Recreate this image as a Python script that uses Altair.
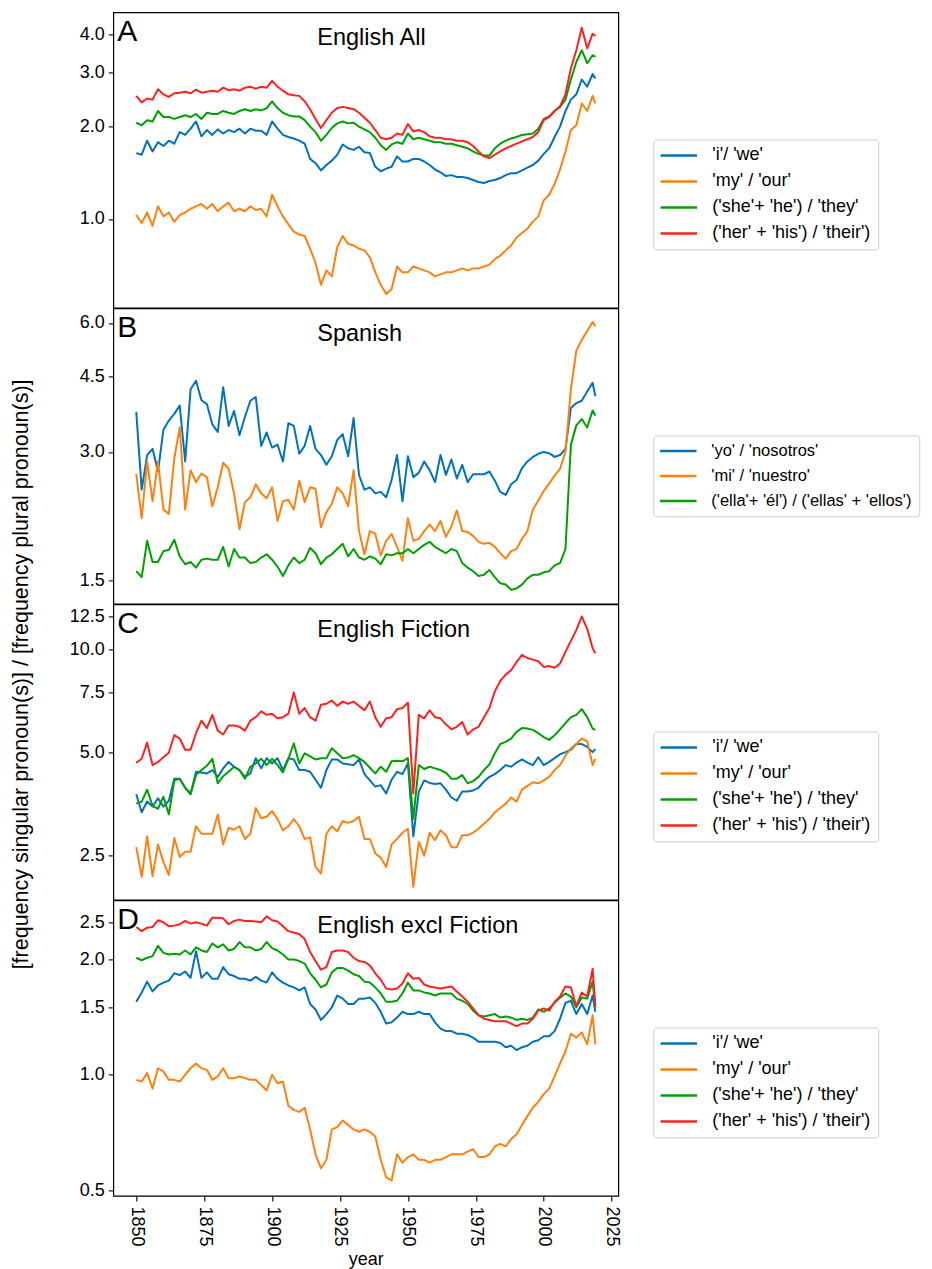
import altair as alt
import pandas as pd

FONT = "Liberation Sans"

years = list(range(1850, 2019, 2)) + [2019]

LABELS_EN = ["'i'/ 'we'", "'my' / 'our'", "('she'+ 'he') / 'they'", "('her' + 'his') / 'their')"]
LABELS_ES = ["'yo' / 'nosotros'", "'mi' / 'nuestro'", "('ella'+ 'él') / ('ellas' + 'ellos')"]
COLORS = ["#0072bd", "#ff800e", "#00a000", "#ff2020"]
YLABEL = "[frequency singular pronoun(s)] / [frequency plural pronoun(s)]"

X_DOMAIN = [1841.55, 2027.45]
X_TICKS = [1850, 1875, 1900, 1925, 1950, 1975, 2000, 2025]

# ---------------- Panel A: English All ----------------
A_blue = [1.64, 1.62, 1.80, 1.66, 1.78, 1.73, 1.80, 1.76, 1.92, 1.88,
          1.97, 2.08, 1.86, 1.95, 1.88, 1.96, 1.90, 1.95, 1.92, 1.97,
          1.90, 1.97, 1.94, 1.94, 1.88, 2.08, 1.97, 1.88, 1.85, 1.83,
          1.80, 1.76, 1.57, 1.52, 1.44, 1.50, 1.55, 1.62, 1.75, 1.70,
          1.68, 1.72, 1.65, 1.64, 1.48, 1.43, 1.46, 1.48, 1.60, 1.54,
          1.54, 1.57, 1.57, 1.54, 1.50, 1.45, 1.42, 1.38, 1.39, 1.37,
          1.37, 1.36, 1.34, 1.32, 1.31, 1.33, 1.34, 1.36, 1.39, 1.41,
          1.41, 1.44, 1.47, 1.50, 1.55, 1.63, 1.70, 1.85, 2.00, 2.25,
          2.45, 2.55, 2.85, 2.70, 2.97,
          2.87]
A_orange = [1.03, 0.97, 1.05, 0.95, 1.10, 1.02, 1.05, 0.98, 1.03, 1.05,
            1.08, 1.10, 1.12, 1.08, 1.12, 1.06, 1.10, 1.13, 1.06, 1.08,
            1.06, 1.10, 1.07, 1.08, 1.02, 1.20, 1.10, 1.02, 0.96, 0.91,
            0.89, 0.88, 0.80, 0.72, 0.61, 0.68, 0.65, 0.81, 0.88, 0.83,
            0.82, 0.80, 0.79, 0.75, 0.67, 0.61, 0.57, 0.59, 0.70, 0.67,
            0.67, 0.70, 0.69, 0.68, 0.67, 0.65, 0.66, 0.67, 0.67, 0.68,
            0.69, 0.68, 0.69, 0.69, 0.70, 0.71, 0.74, 0.76, 0.79, 0.82,
            0.87, 0.90, 0.93, 0.98, 1.02, 1.15, 1.20, 1.30, 1.45, 1.66,
            1.95, 2.02, 2.38, 2.25, 2.52,
            2.38]
A_green = [2.06, 2.02, 2.10, 2.08, 2.25, 2.15, 2.15, 2.12, 2.15, 2.18,
           2.15, 2.20, 2.12, 2.22, 2.20, 2.20, 2.25, 2.22, 2.20, 2.25,
           2.28, 2.25, 2.28, 2.26, 2.30, 2.42, 2.30, 2.22, 2.18, 2.16,
           2.16, 2.10, 2.00, 1.92, 1.80, 1.88, 1.98, 2.05, 2.08, 2.05,
           2.06, 2.00, 1.96, 1.92, 1.84, 1.74, 1.68, 1.75, 1.78, 1.76,
           1.90, 1.82, 1.84, 1.82, 1.80, 1.78, 1.78, 1.76, 1.76, 1.74,
           1.72, 1.70, 1.66, 1.63, 1.61, 1.61, 1.70, 1.76, 1.80, 1.83,
           1.85, 1.88, 1.89, 1.90, 1.97, 2.12, 2.16, 2.25, 2.32, 2.45,
           2.85, 3.25, 3.55, 3.22, 3.42,
           3.38]
A_red = [2.52, 2.40, 2.47, 2.45, 2.65, 2.55, 2.50, 2.57, 2.58, 2.60,
         2.57, 2.64, 2.58, 2.60, 2.62, 2.60, 2.68, 2.63, 2.65, 2.62,
         2.68, 2.70, 2.66, 2.70, 2.68, 2.82, 2.70, 2.62, 2.55, 2.53,
         2.52, 2.42, 2.28, 2.12, 1.98, 2.10, 2.22, 2.30, 2.32, 2.30,
         2.28, 2.22, 2.14, 2.06, 1.95, 1.84, 1.82, 1.84, 1.90, 1.88,
         2.04, 1.93, 1.95, 1.92, 1.86, 1.84, 1.84, 1.82, 1.82, 1.80,
         1.80, 1.78, 1.73, 1.66, 1.60, 1.58, 1.62, 1.66, 1.70, 1.73,
         1.76, 1.79, 1.82, 1.85, 1.92, 2.10, 2.15, 2.25, 2.33, 2.55,
         3.10, 3.55, 4.20, 3.60, 4.02,
         3.95]

# ---------------- Panel B: Spanish ----------------
B_blue = [3.72, 2.45, 2.95, 3.05, 2.70, 3.38, 3.55, 3.68, 3.85, 2.85,
          4.20, 4.40, 3.96, 3.88, 3.48, 3.34, 4.25, 3.45, 3.74, 3.28,
          3.62, 3.95, 4.03, 3.10, 3.33, 3.07, 3.12, 2.85, 3.50, 3.45,
          2.97, 3.10, 3.45, 3.05, 2.95, 2.80, 2.93, 3.20, 3.30, 2.93,
          3.60, 2.65, 2.45, 2.48, 2.40, 2.42, 2.35, 2.58, 2.95, 2.30,
          2.93, 2.62, 2.68, 2.85, 2.72, 2.55, 2.95, 2.65, 2.88, 2.60,
          2.80, 2.55, 2.66, 2.66, 2.66, 2.70, 2.57, 2.42, 2.38, 2.52,
          2.58, 2.75, 2.85, 2.92, 2.97, 3.00, 2.98, 2.92, 2.95, 3.05,
          3.80, 3.90, 3.95, 4.15, 4.35,
          4.05]
B_orange = [2.67, 2.10, 2.85, 2.30, 2.85, 2.20, 2.15, 2.90, 3.42, 2.20,
            2.72, 2.55, 2.67, 2.62, 2.24, 2.48, 2.83, 2.74, 2.40, 1.98,
            2.29, 2.35, 2.52, 2.40, 2.34, 2.48, 2.07, 2.30, 2.32, 2.20,
            2.57, 2.29, 2.48, 2.46, 2.00, 2.17, 2.27, 2.48, 2.40, 2.24,
            2.72, 1.96, 1.73, 1.96, 1.93, 1.72, 1.86, 1.93, 1.80, 1.67,
            2.10, 1.86, 1.88, 1.96, 2.03, 1.96, 2.07, 1.90, 2.01, 2.19,
            1.96, 1.95, 1.91, 1.85, 1.83, 1.84, 1.80, 1.74, 1.69, 1.76,
            1.78, 1.88, 1.96, 2.20, 2.31, 2.43, 2.53, 2.64, 2.74, 3.00,
            4.20, 5.17, 5.48, 5.75, 6.03,
            5.90]
B_green = [1.58, 1.53, 1.86, 1.66, 1.66, 1.76, 1.77, 1.87, 1.71, 1.64,
           1.66, 1.61, 1.68, 1.69, 1.68, 1.68, 1.80, 1.62, 1.78, 1.70,
           1.70, 1.65, 1.66, 1.70, 1.73, 1.68, 1.62, 1.54, 1.63, 1.70,
           1.65, 1.68, 1.79, 1.74, 1.64, 1.70, 1.73, 1.78, 1.83, 1.71,
           1.78, 1.70, 1.68, 1.71, 1.69, 1.64, 1.73, 1.72, 1.74, 1.74,
           1.78, 1.74, 1.78, 1.82, 1.85, 1.80, 1.77, 1.74, 1.78, 1.76,
           1.65, 1.61, 1.58, 1.54, 1.55, 1.59, 1.53, 1.48, 1.47, 1.43,
           1.44, 1.47, 1.52, 1.55, 1.55, 1.57, 1.58, 1.63, 1.65, 1.78,
           3.12, 3.46, 3.58, 3.42, 3.75,
           3.65]

# ---------------- Panel C: English Fiction ----------------
C_blue = [3.78, 3.35, 3.60, 3.48, 3.68, 3.48, 3.62, 4.20, 4.20, 3.95,
          3.78, 4.40, 4.38, 4.35, 4.45, 4.25, 4.50, 4.70, 4.55, 4.45,
          4.25, 4.35, 4.82, 4.50, 4.82, 4.65, 4.82, 4.45, 4.82, 4.78,
          4.45, 4.45, 4.40, 4.17, 3.95, 4.45, 4.78, 4.78, 4.65, 4.63,
          4.60, 4.78, 4.33, 4.15, 3.98, 4.02, 3.80, 4.17, 4.40, 4.33,
          4.65, 2.85, 3.85, 4.15, 4.08, 4.05, 4.07, 3.90, 3.70, 3.62,
          3.85, 3.85, 3.88, 3.95, 4.12, 4.25, 4.33, 4.45, 4.60, 4.55,
          4.68, 4.78, 4.68, 4.60, 4.85, 4.60, 4.70, 4.82, 4.95, 5.02,
          5.10, 5.30, 5.30, 5.20, 5.02,
          5.12]
C_orange = [2.65, 2.17, 2.85, 2.18, 2.70, 2.40, 2.20, 2.82, 2.48, 2.57,
            2.57, 3.05, 2.90, 2.90, 2.90, 3.30, 2.70, 3.02, 2.98, 3.05,
            2.80, 2.90, 3.45, 3.22, 3.25, 3.38, 3.20, 2.97, 3.05, 3.20,
            3.05, 2.80, 2.83, 2.32, 2.22, 2.90, 3.05, 2.95, 3.16, 3.12,
            3.16, 3.25, 2.80, 2.80, 2.54, 2.47, 2.32, 2.70, 2.80, 2.92,
            3.00, 2.03, 2.75, 2.50, 2.92, 2.78, 2.97, 2.87, 2.65, 2.65,
            2.87, 2.87, 2.92, 3.00, 3.10, 3.20, 3.35, 3.45, 3.55, 3.70,
            3.60, 3.90, 4.00, 4.10, 4.07, 4.15, 4.25, 4.45, 4.60, 4.90,
            5.15, 5.30, 5.50, 5.40, 4.60,
            4.80]
C_green = [3.55, 3.60, 3.90, 3.50, 3.43, 3.72, 3.30, 4.15, 4.20, 3.95,
           3.80, 4.30, 4.45, 4.58, 4.80, 4.07, 4.27, 4.40, 4.55, 4.45,
           4.20, 4.55, 4.65, 4.80, 4.60, 4.80, 4.60, 4.38, 4.80, 5.32,
           4.65, 4.98, 4.88, 4.78, 4.82, 4.82, 5.15, 4.98, 4.82, 4.84,
           4.92, 4.82, 4.70, 4.52, 4.35, 4.55, 4.40, 4.72, 4.74, 4.72,
           4.82, 3.20, 4.60, 4.48, 4.55, 4.50, 4.45, 4.37, 4.20, 4.20,
           4.30, 4.07, 4.13, 4.25, 4.45, 4.62, 4.98, 5.30, 5.38, 5.50,
           5.75, 5.90, 5.88, 5.83, 5.70, 5.55, 5.45, 5.62, 5.85, 6.10,
           6.35, 6.45, 6.70, 6.35, 5.88,
           5.83]
C_red = [4.67, 4.80, 5.35, 4.60, 4.70, 4.85, 5.00, 5.63, 5.50, 5.10,
         5.10, 5.70, 6.20, 5.90, 6.45, 5.80, 5.65, 6.00, 6.00, 5.95,
         5.80, 6.20, 6.35, 6.60, 6.45, 6.50, 6.30, 6.35, 6.50, 7.50,
         6.50, 6.75, 6.35, 6.20, 6.90, 6.95, 7.10, 6.85, 7.05, 6.95,
         7.05, 6.85, 6.65, 7.05, 6.35, 5.95, 6.30, 6.35, 6.70, 6.75,
         7.00, 3.80, 6.45, 6.30, 6.65, 6.35, 6.30, 6.05, 5.85, 5.95,
         6.15, 5.65, 5.85, 5.95, 6.35, 6.75, 7.55, 8.10, 8.45, 8.70,
         9.20, 9.65, 9.45, 9.35, 9.25, 8.90, 8.95, 8.85, 9.10, 9.85,
         10.6, 11.4, 12.5, 11.5, 10.1,
         9.75]

# ---------------- Panel D: English excl Fiction ----------------
D_blue = [1.55, 1.64, 1.75, 1.65, 1.71, 1.74, 1.76, 1.84, 1.82, 1.86,
          1.79, 2.10, 1.79, 1.85, 1.78, 1.78, 1.91, 1.83, 1.81, 1.78,
          1.78, 1.76, 1.80, 1.76, 1.74, 1.85, 1.78, 1.74, 1.71, 1.69,
          1.66, 1.69, 1.53, 1.48, 1.39, 1.44, 1.50, 1.61, 1.58, 1.53,
          1.53, 1.58, 1.58, 1.59, 1.54, 1.46, 1.36, 1.37, 1.41, 1.46,
          1.44, 1.44, 1.46, 1.44, 1.44, 1.37, 1.32, 1.30, 1.30, 1.28,
          1.28, 1.27, 1.25, 1.22, 1.22, 1.22, 1.22, 1.21, 1.18, 1.19,
          1.16, 1.18, 1.19, 1.22, 1.23, 1.26, 1.26, 1.30, 1.40, 1.54,
          1.56, 1.44, 1.53, 1.44, 1.61,
          1.46]
D_orange = [0.97, 0.96, 1.01, 0.92, 1.04, 1.02, 0.97, 0.97, 0.96, 1.00,
            1.04, 1.07, 1.04, 1.03, 0.97, 0.99, 1.04, 0.98, 0.98, 0.99,
            0.98, 0.97, 0.97, 0.94, 0.91, 1.00, 0.95, 0.96, 0.83, 0.81,
            0.80, 0.82, 0.72, 0.62, 0.57, 0.60, 0.72, 0.73, 0.76, 0.74,
            0.72, 0.71, 0.72, 0.71, 0.69, 0.60, 0.54, 0.53, 0.62, 0.59,
            0.61, 0.62, 0.60, 0.60, 0.59, 0.60, 0.60, 0.61, 0.62, 0.62,
            0.62, 0.63, 0.64, 0.61, 0.61, 0.62, 0.65, 0.66, 0.65, 0.68,
            0.70, 0.74, 0.78, 0.82, 0.85, 0.89, 0.92, 0.99, 1.07, 1.15,
            1.28, 1.25, 1.29, 1.20, 1.43,
            1.20]
D_green = [2.02, 1.99, 2.02, 2.04, 2.17, 2.08, 2.06, 2.07, 2.06, 2.11,
           2.06, 2.15, 2.11, 2.09, 2.20, 2.15, 2.19, 2.11, 2.13, 2.22,
           2.15, 2.15, 2.11, 2.13, 2.22, 2.14, 2.11, 2.06, 2.00, 2.00,
           1.98, 1.95, 1.84, 1.77, 1.69, 1.72, 1.85, 1.90, 1.90, 1.87,
           1.83, 1.81, 1.75, 1.74, 1.69, 1.63, 1.55, 1.55, 1.56, 1.63,
           1.74, 1.66, 1.66, 1.64, 1.63, 1.61, 1.63, 1.63, 1.63, 1.58,
           1.56, 1.53, 1.47, 1.43, 1.42, 1.43, 1.44, 1.41, 1.42, 1.41,
           1.39, 1.40, 1.39, 1.41, 1.48, 1.46, 1.49, 1.54, 1.59, 1.63,
           1.60, 1.50, 1.59, 1.58, 1.75,
           1.50]
D_red = [2.43, 2.37, 2.42, 2.43, 2.53, 2.50, 2.44, 2.45, 2.47, 2.52,
         2.48, 2.50, 2.48, 2.45, 2.57, 2.57, 2.56, 2.47, 2.52, 2.54,
         2.52, 2.52, 2.51, 2.50, 2.59, 2.53, 2.51, 2.44, 2.37, 2.35,
         2.33, 2.26, 2.09, 1.98, 1.88, 1.91, 2.09, 2.11, 2.11, 2.09,
         2.02, 1.98, 1.97, 1.93, 1.84, 1.77, 1.68, 1.67, 1.68, 1.73,
         1.84, 1.78, 1.79, 1.72, 1.70, 1.69, 1.68, 1.69, 1.70, 1.65,
         1.60, 1.55, 1.49, 1.43, 1.40, 1.39, 1.38, 1.38, 1.38, 1.36,
         1.34, 1.36, 1.36, 1.40, 1.47, 1.49, 1.47, 1.55, 1.60, 1.70,
         1.69, 1.51, 1.64, 1.60, 1.89,
         1.51]

PANEL_W = 505
PANEL_H = 295.5


def long_df(labels, series_list):
    rows = []
    for lab, vals in zip(labels, series_list):
        assert len(vals) == len(years), (lab, len(vals))
        for yr, v in zip(years, vals):
            rows.append({"year": yr, "value": v, "series": lab})
    return pd.DataFrame(rows)


def panel(labels, series_list, ydom, yticks, letter, title, bottom=False, legend_font=18):
    df = long_df(labels, series_list)
    if bottom:
        xaxis = alt.Axis(values=X_TICKS, format="d", labelAngle=90, labelFontSize=18,
                         labelFont=FONT, labelColor="black", labelPadding=5, tickSize=5,
                         tickColor="black", tickWidth=1.1, domain=False, grid=False,
                         title="year", titleFontSize=18, titleFont=FONT,
                         titleFontWeight="normal", titleColor="black", titlePadding=5,
                         labelFlush=False, labelOverlap=False)
    else:
        xaxis = None
    yaxis = alt.Axis(values=yticks, format=".1f", labelFontSize=18, labelFont=FONT,
                     labelColor="black", labelPadding=4, tickSize=5, tickColor="black",
                     tickWidth=1.1, domain=False, grid=False, title=None,
                     labelFlush=False, labelOverlap=False)
    legend = alt.Legend(orient="none", legendX=540, legendY=127, direction="vertical",
                        title=None, labelFontSize=legend_font, labelFont=FONT,
                        labelColor="black", labelLimit=600,
                        symbolType="M-2.6,0H2.6", symbolSize=196, symbolStrokeWidth=2.5,
                        symbolOffset=9.5, labelOffset=24.5, rowPadding=8, padding=7,
                        strokeColor="#cccccc", cornerRadius=3, fillColor="white")
    lines = alt.Chart(df).mark_line(strokeWidth=2, strokeJoin="round").encode(
        x=alt.X("year:Q", scale=alt.Scale(domain=X_DOMAIN, nice=False, zero=False), axis=xaxis),
        y=alt.Y("value:Q", scale=alt.Scale(type="log", domain=ydom, nice=False), axis=yaxis),
        color=alt.Color("series:N",
                        scale=alt.Scale(domain=labels, range=COLORS[:len(labels)]),
                        legend=legend),
    )
    letter_layer = alt.Chart(pd.DataFrame({"t": [letter]})).mark_text(
        align="left", baseline="alphabetic", fontSize=30, font=FONT, color="black"
    ).encode(text="t:N", x=alt.value(4), y=alt.value(28.5))
    title_layer = alt.Chart(pd.DataFrame({"t": [title]})).mark_text(
        align="left", baseline="alphabetic", fontSize=23.5, font=FONT, color="black"
    ).encode(text="t:N", x=alt.value(204), y=alt.value(32.5))
    return alt.layer(lines, letter_layer, title_layer).properties(
        width=PANEL_W, height=PANEL_H,
        view=alt.ViewBackground(stroke="black", strokeWidth=1.2))


pA = panel(LABELS_EN, [A_blue, A_orange, A_green, A_red], [0.513, 4.716], [1.0, 2.0, 3.0, 4.0],
           "A", "English All")
pB = panel(LABELS_ES, [B_blue, B_orange, B_green], [1.325, 6.49], [1.5, 3.0, 4.5, 6.0],
           "B", "Spanish", legend_font=16.5)
pC = panel(LABELS_EN, [C_blue, C_orange, C_green, C_red], [1.859, 13.55],
           [2.5, 5.0, 7.5, 10.0, 12.5], "C", "English Fiction")
pD = panel(LABELS_EN, [D_blue, D_orange, D_green, D_red], [0.483, 2.851],
           [0.5, 1.0, 1.5, 2.0, 2.5], "D", "English excl Fiction", bottom=True)

ytitle = alt.Chart(pd.DataFrame({"t": [YLABEL]})).mark_text(
    angle=270, align="center", baseline="middle", fontSize=21.5, font=FONT, color="black"
).encode(text="t:N", x=alt.value(14), y=alt.value(662)).properties(width=28, height=4 * PANEL_H)

panels = alt.vconcat(pA, pB, pC, pD, spacing=0, bounds="flush").resolve_scale(
    color="independent").resolve_legend(color="independent")

chart = alt.hconcat(ytitle, panels, spacing=77.3, bounds="flush").resolve_scale(
    color="independent").resolve_legend(color="independent").properties(
    padding={"left": 0, "top": 3.4, "right": 0, "bottom": 0}
).configure_view(strokeWidth=0)

chart.save("out.html", embed_options={"renderer": "svg", "actions": False})
